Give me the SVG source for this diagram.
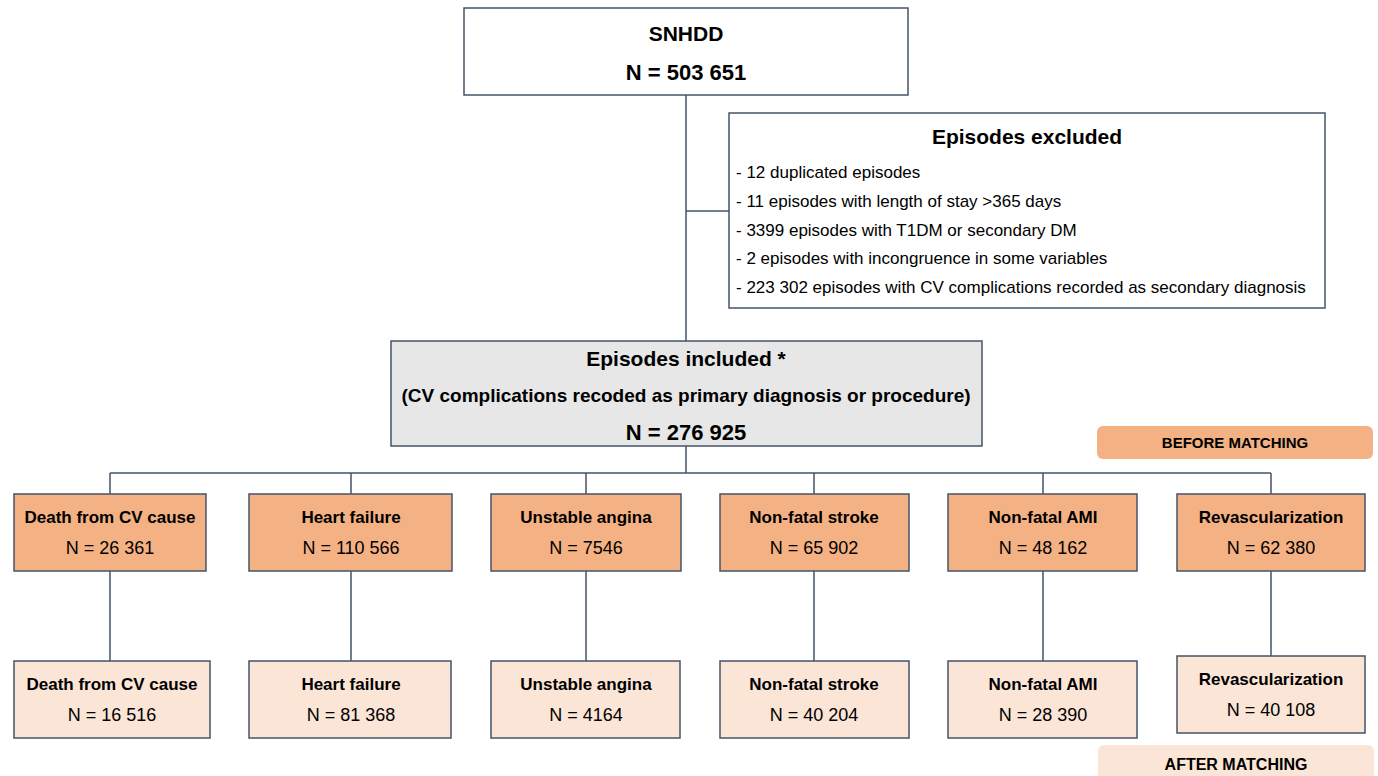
<svg xmlns="http://www.w3.org/2000/svg" width="1378" height="776" viewBox="0 0 1378 776">
<style>
text{font-family:"Liberation Sans",Arial,sans-serif;fill:#000;text-anchor:middle}
.b{font-weight:bold}
.box{stroke:#44546a;stroke-width:1.5}
.w{fill:#fff}
.g{fill:#e7e7e7}
.o{fill:#f4b183}
.p{fill:#fbe5d6}
.ln{stroke:#44546a;stroke-width:1.5;fill:none}
.t1{font-size:21px}
.t2{font-size:17px}
.n{font-size:18px}
.it{font-size:17px;text-anchor:start}
</style>
<rect width="1378" height="776" fill="#fff"/>
<g id="connectors">
<path class="ln" d="M686 95V341M686 211H729M686 446V473M110 473H1271M110 473V494M351 473V494M586 473V494M814 473V494M1043 473V494M1271 473V494M110 571V661M351 571V661M586 571V661M814 571V661M1043 571V661M1271 571V656"/>
</g>
<g id="snhdd">
<rect class="box w" x="464" y="8" width="444" height="87"/>
<text class="b t1" x="686" y="41">SNHDD</text>
<text class="b" style="font-size:22px" x="686" y="80">N = 503 651</text>
</g>
<g id="excluded">
<rect class="box w" x="729" y="113" width="596" height="195"/>
<text class="b t1" x="1027" y="144">Episodes excluded</text>
<text class="it" x="736" y="178">- 12 duplicated episodes</text>
<text class="it" x="736" y="207">- 11 episodes with length of stay &gt;365 days</text>
<text class="it" x="736" y="236">- 3399 episodes with T1DM or secondary DM</text>
<text class="it" x="736" y="264">- 2 episodes with incongruence in some variables</text>
<text class="it" x="736" y="293">- 223 302 episodes with CV complications recorded as secondary diagnosis</text>
</g>
<g id="included">
<rect class="box g" x="391" y="341" width="591" height="105"/>
<text class="b t1" x="686" y="366">Episodes included *</text>
<text class="b" style="font-size:19px" x="686" y="402">(CV complications recoded as primary diagnosis or procedure)</text>
<text class="b" style="font-size:22px" x="686" y="440">N = 276 925</text>
</g>
<g id="before-label">
<rect x="1097" y="426" width="276" height="33" rx="6" class="o"/>
<text class="b" style="font-size:15px" x="1235" y="448">BEFORE MATCHING</text>
</g>
<g id="b1"><rect class="box o" x="14" y="494" width="192" height="77"/><text class="b t2" x="110" y="523">Death from  CV cause</text><text class="n" x="110" y="554">N = 26 361</text></g>
<g id="b2"><rect class="box o" x="249" y="494" width="203" height="77"/><text class="b t2" x="351" y="523">Heart failure</text><text class="n" x="351" y="554">N = 110 566</text></g>
<g id="b3"><rect class="box o" x="491" y="494" width="190" height="77"/><text class="b t2" x="586" y="523">Unstable angina</text><text class="n" x="586" y="554">N = 7546</text></g>
<g id="b4"><rect class="box o" x="720" y="494" width="189" height="77"/><text class="b t2" x="814" y="523">Non-fatal stroke</text><text class="n" x="814" y="554">N = 65 902</text></g>
<g id="b5"><rect class="box o" x="948" y="494" width="189" height="77"/><text class="b t2" x="1043" y="523">Non-fatal AMI</text><text class="n" x="1043" y="554">N = 48 162</text></g>
<g id="b6"><rect class="box o" x="1177" y="494" width="188" height="77"/><text class="b t2" x="1271" y="523">Revascularization</text><text class="n" x="1271" y="554">N = 62 380</text></g>
<g id="a1"><rect class="box p" x="14" y="661" width="196" height="77"/><text class="b t2" x="112" y="690">Death from CV cause</text><text class="n" x="112" y="721">N = 16 516</text></g>
<g id="a2"><rect class="box p" x="249" y="661" width="202" height="77"/><text class="b t2" x="351" y="690">Heart failure</text><text class="n" x="351" y="721">N = 81 368</text></g>
<g id="a3"><rect class="box p" x="491" y="661" width="189" height="77"/><text class="b t2" x="586" y="690">Unstable angina</text><text class="n" x="586" y="721">N = 4164</text></g>
<g id="a4"><rect class="box p" x="720" y="661" width="189" height="77"/><text class="b t2" x="814" y="690">Non-fatal stroke</text><text class="n" x="814" y="721">N = 40 204</text></g>
<g id="a5"><rect class="box p" x="948" y="661" width="189" height="77"/><text class="b t2" x="1043" y="690">Non-fatal AMI</text><text class="n" x="1043" y="721">N = 28 390</text></g>
<g id="a6"><rect class="box p" x="1177" y="656" width="188" height="77"/><text class="b t2" x="1271" y="685">Revascularization</text><text class="n" x="1271" y="716">N = 40 108</text></g>
<g id="after-label">
<rect x="1098" y="745" width="276" height="40" rx="6" class="p"/>
<text class="b" style="font-size:16px" x="1236" y="770">AFTER MATCHING</text>
</g>
</svg>
